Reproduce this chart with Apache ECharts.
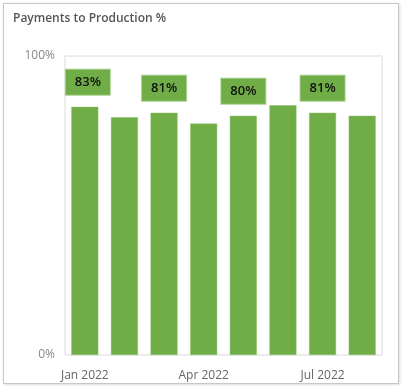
<!DOCTYPE html>
<html>
<head>
<meta charset="utf-8">
<script src="https://cdn.jsdelivr.net/npm/echarts@6/dist/echarts.min.js"></script>
<style>
html,body{margin:0;padding:0;background:#fff;}
#card{position:absolute;left:3px;top:3px;width:394px;height:379px;border:1px solid #c8c8c8;box-shadow:1px 1px 3px rgba(0,0,0,0.15);background:#fff;}
#chart{position:absolute;left:0;top:0;width:402px;height:386px;}
</style>
</head>
<body>
<div id="card"></div>
<div id="chart"></div>
<script>
const categories = ['Jan 2022','Feb 2022','Mar 2022','Apr 2022','May 2022','Jun 2022','Jul 2022','Aug 2022'];
const values = [83, 79.5, 81, 77.4, 80, 83.5, 81, 80];
const barLabels = ['83%','','81%','','80%','','81%',''];
const yTicks = [0, 100];

const chart = echarts.init(document.getElementById('chart'), null, {renderer:'canvas'});
const data = values.map((v,i)=>{
  const item = {value:v};
  if (barLabels[i]) {
    item.label = {show:true, formatter: barLabels[i], offset: i===0 ? [3,0] : [0,0]};
  }
  return item;
});
chart.setOption({
  animation:false,
  title:{text:'Payments to Production %', left:8, top:8,
    textStyle:{fontFamily:'Open Sans', fontSize:12, fontWeight:600, color:'#555'}},
  grid:{left:65, right:20, top:56, bottom:31, show:true, borderColor:'#dcdcdc', borderWidth:1},
  xAxis:{type:'category', data:categories,
    axisLine:{show:false}, axisTick:{show:false},
    axisLabel:{interval:2, color:'#666', fontFamily:'Open Sans', fontSize:12, margin:15}},
  yAxis:{type:'value', min:yTicks[0], max:yTicks[1], interval:100,
    splitLine:{show:false}, axisLine:{show:false}, axisTick:{show:false},
    axisLabel:{formatter:'{value}%', color:'#888', fontFamily:'Open Sans', fontSize:12, margin:10}},
  series:[{
    type:'bar', data:data, barWidth:27,
    itemStyle:{color:'#70ad47', borderColor:'#8cc06a', borderWidth:0.5},
    label:{show:false, position:'top', distance:12,
      backgroundColor:'#70ad47', borderColor:'#a9d08e', borderWidth:1,
      padding:[5,10], width:24, align:'center', lineHeight:15,
      color:'#111', fontFamily:'Open Sans', fontSize:13, fontWeight:600}
  }]
});
</script>
</body>
</html>
